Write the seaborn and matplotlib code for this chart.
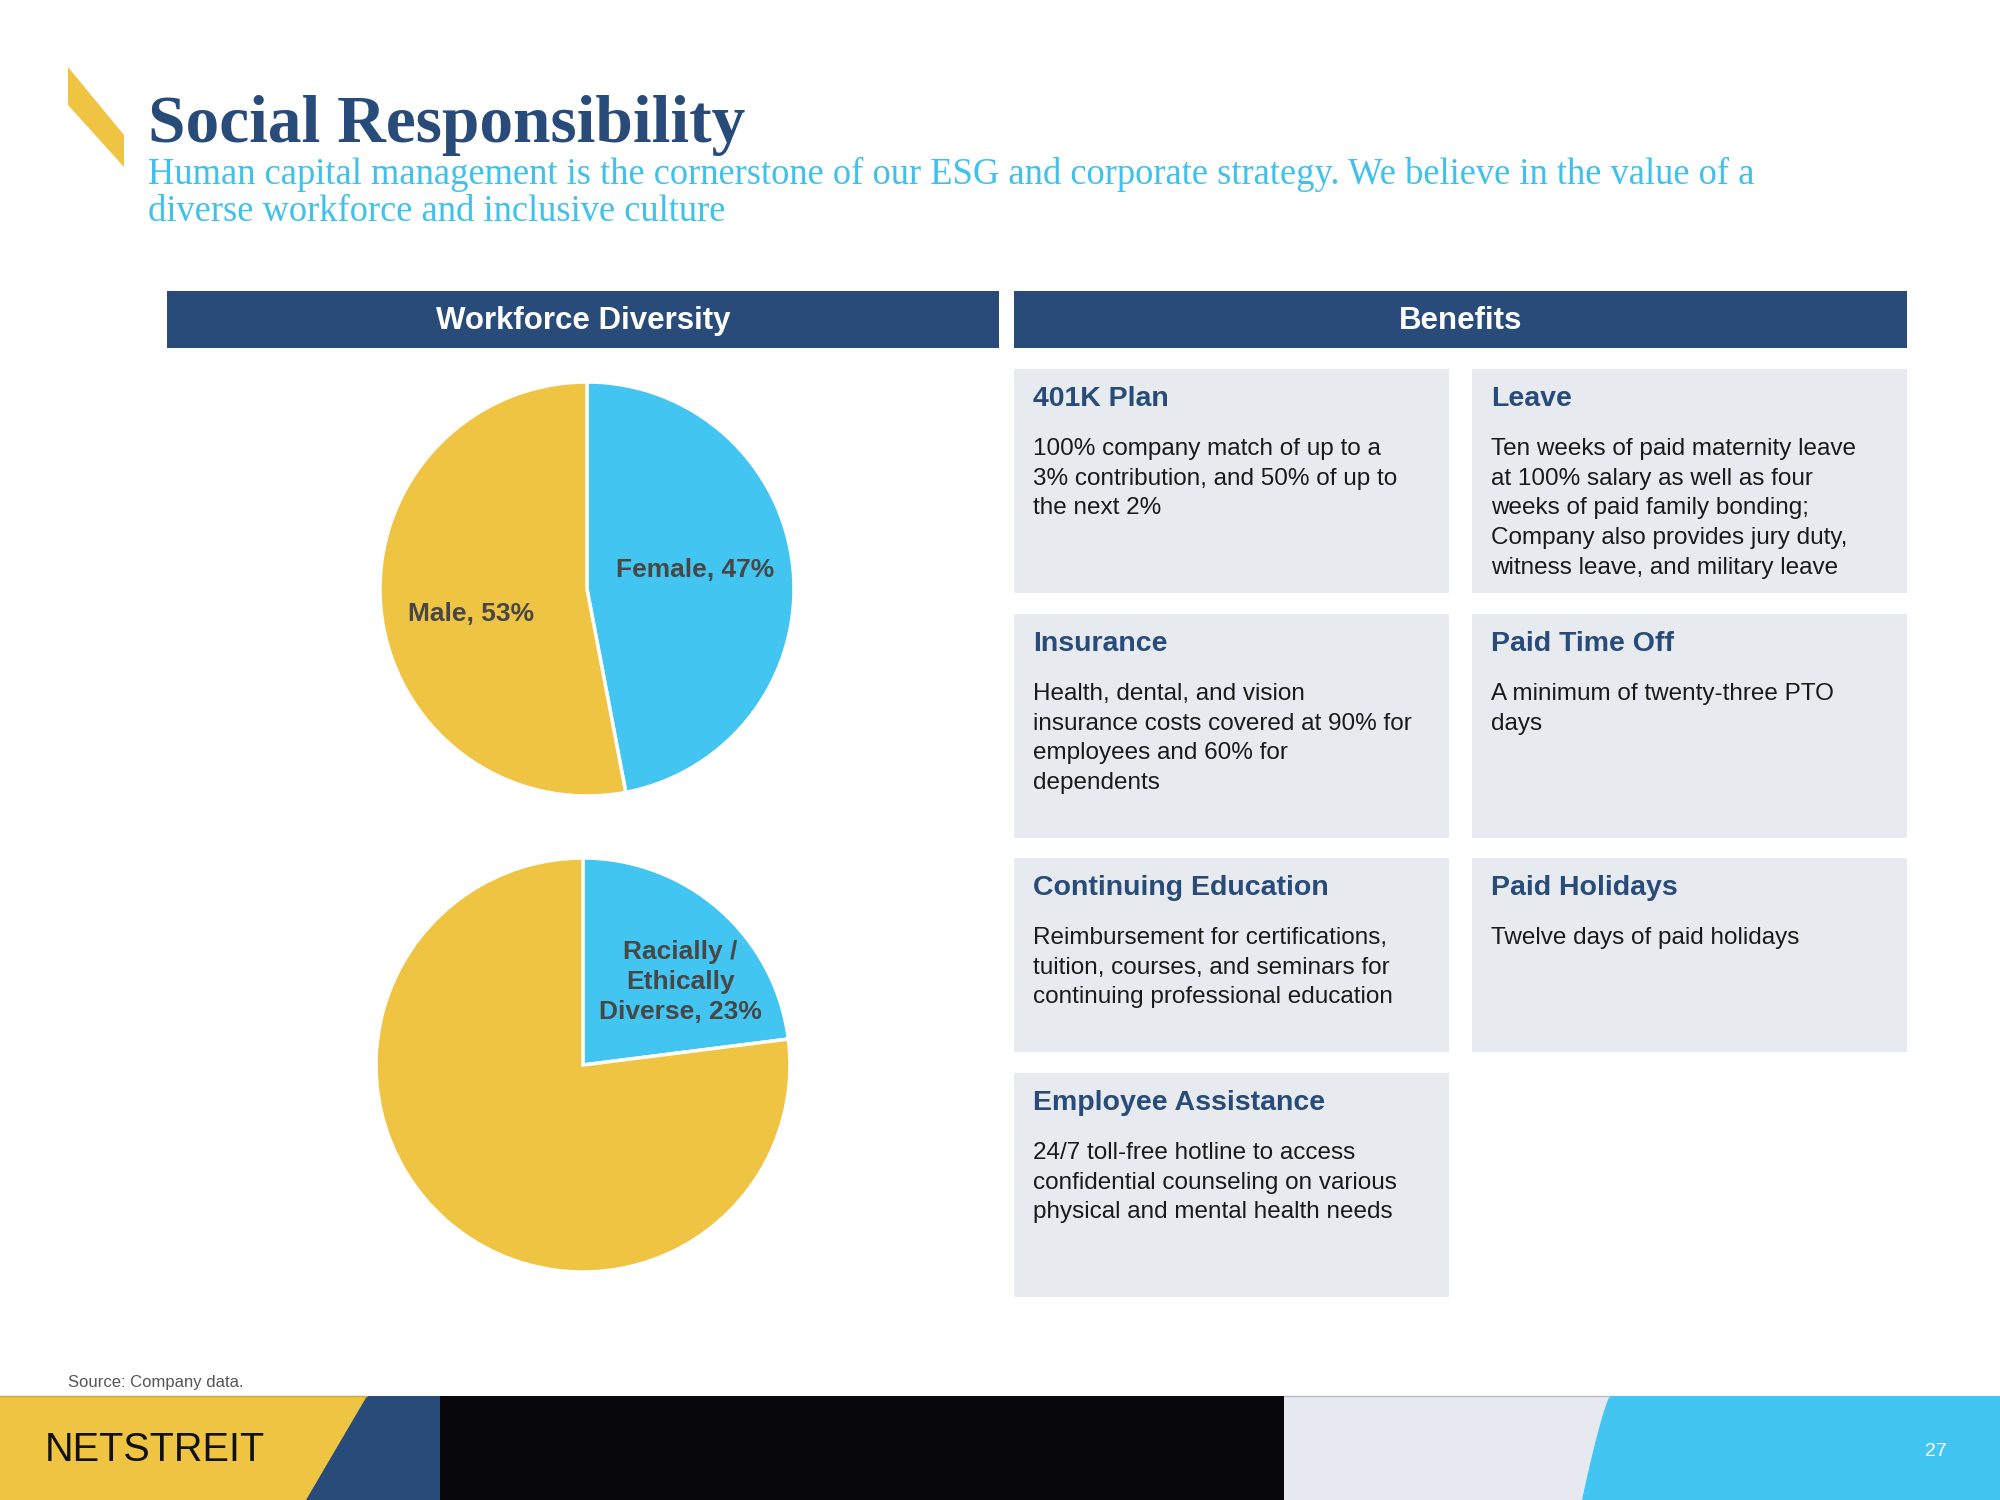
import numpy as np
import pandas as pd
import matplotlib
matplotlib.use("Agg")
import matplotlib.pyplot as plt
from matplotlib.patches import Rectangle, Polygon
import seaborn as sb

# Chart data
gender_labels = ['Female, 47%', 'Male, 53%']
gender_values = [47, 53]
diversity_labels = ['Racially /\nEthically\nDiverse, 23%', '']
diversity_values = [23, 77]

benefit_titles = ['401K Plan', 'Leave', 'Insurance', 'Paid Time Off',
                  'Continuing Education', 'Paid Holidays', 'Employee Assistance']
benefit_texts = [
    '100% company match of up to a\n3% contribution, and 50% of up to\nthe next 2%',
    'Ten weeks of paid maternity leave\nat 100% salary as well as four\nweeks of paid family bonding;\nCompany also provides jury duty,\nwitness leave, and military leave',
    'Health, dental, and vision\ninsurance costs covered at 90% for\nemployees and 60% for\ndependents',
    'A minimum of twenty-three PTO\ndays',
    'Reimbursement for certifications,\ntuition, courses, and seminars for\ncontinuing professional education',
    'Twelve days of paid holidays',
    '24/7 toll-free hotline to access\nconfidential counseling on various\nphysical and mental health needs',
]

title = 'Social Responsibility'
subtitle = ('Human capital management is the cornerstone of our ESG and corporate strategy. We believe in the value of a\n'
            'diverse workforce and inclusive culture')

sb.set_theme(style='white')
plt.rcParams['font.family'] = ['Liberation Sans', 'DejaVu Sans']

YELLOW = '#efc443'
BLUE = '#43c5f1'
NAVY = '#284b79'
BOXGRAY = '#e7ebef'
LABEL = '#474747'
pal = sb.color_palette([BLUE, YELLOW])

W, H = 2000, 1500
fig = plt.figure(figsize=(20, 15), dpi=100)
bg = fig.add_axes([0, 0, 1, 1])
bg.set_xlim(0, W)
bg.set_ylim(H, 0)
bg.axis('off')

# header
bg.add_patch(Polygon([(68, 67), (124, 135), (124, 167), (68, 105)], color=YELLOW, lw=0))
bg.text(148, 125, title, family='Liberation Serif', weight='bold', fontsize=48.5,
        color=NAVY, va='center', ha='left')
bg.text(148, 193, subtitle, family='Liberation Serif', fontsize=26.3, color='#3fc1ec',
        va='center', ha='left', linespacing=1.12)

# section bars
for x0, x1, lab in [(167, 999, 'Workforce Diversity'), (1014, 1907, 'Benefits')]:
    bg.add_patch(Rectangle((x0, 291), x1 - x0, 57, color=NAVY, lw=0))
    bg.text((x0 + x1) / 2, 321, lab, color='white', weight='bold', fontsize=22.5,
            ha='center', va='center')

# benefit boxes
cols = [1014, 1472]
rows = [369, 614, 858, 1073]
hts = [224, 224, 194, 224]
for i, (t, body) in enumerate(zip(benefit_titles, benefit_texts)):
    r, c = divmod(i, 2)
    x0, y0 = cols[c], rows[r]
    bg.add_patch(Rectangle((x0, y0), 435, hts[r], color=BOXGRAY, lw=0))
    bg.text(x0 + 19, y0 + 30, t, color=NAVY, weight='bold', fontsize=20.5,
            ha='left', va='center')
    bg.text(x0 + 19, y0 + 69, body, color='#1a1a1a', fontsize=17.5,
            ha='left', va='top', linespacing=1.45)

# pies
def pie_axes(cx, cy, r):
    return fig.add_axes([(cx - r) / W, 1 - (cy + r) / H, 2 * r / W, 2 * r / H])

label_pos = [[(0.52, 0.09), (-0.56, -0.12)], [(0.47, 0.40), (0, 0)]]
for (cx, cy), vals, labs, lpos in [((587, 589), gender_values, gender_labels, label_pos[0]),
                                   ((583, 1065), diversity_values, diversity_labels, label_pos[1])]:
    ax = pie_axes(cx, cy, 207)
    wedges, texts = ax.pie(vals, labels=labs, colors=pal, startangle=90,
                           counterclock=False,
                           wedgeprops=dict(edgecolor='white', linewidth=2.5),
                           textprops=dict(color=LABEL, weight='bold', fontsize=19,
                                          linespacing=1.3))
    for t, p in zip(texts, lpos):
        t.set_position(p)
        t.set_ha('center')
        t.set_va('center')
    ax.set_xlim(-1.0, 1.0)
    ax.set_ylim(-1.0, 1.0)
    ax.axis('off')

# footer
bg.text(68, 1383, 'Source: Company data.', fontsize=12, color='#555555', va='center')
fy = 1396
bg.add_patch(Rectangle((0, fy), W, H - fy, color='#07070c', lw=0))
bg.add_patch(Polygon([(0, fy), (440, fy), (440, H), (0, H)], color=NAVY, lw=0))
bg.add_patch(Polygon([(0, fy), (367, fy), (306, H), (0, H)], color=YELLOW, lw=0))
bg.add_patch(Rectangle((1284, fy), W - 1284, H - fy, color='#e6e9f0', lw=0))
tt = np.linspace(0, 1, 30)
curve_x = 1610 - 28 * tt ** 0.8
curve_y = fy + (H - fy) * tt
bg.add_patch(Polygon(list(zip(curve_x, curve_y)) + [(W, H), (W, fy)], color=BLUE, lw=0))
bg.plot([0, 367], [fy, fy], color='#c9a83a', lw=1)
bg.plot([1284, 1610], [fy, fy], color='#b8bcc4', lw=1)
bg.text(45, 1450, 'NETSTREIT', fontsize=28.5, color='#111111', va='center', ha='left')
bg.text(1936, 1452, '27', fontsize=14, color='white', va='center', ha='center')

fig.savefig('out.png', dpi=100)
